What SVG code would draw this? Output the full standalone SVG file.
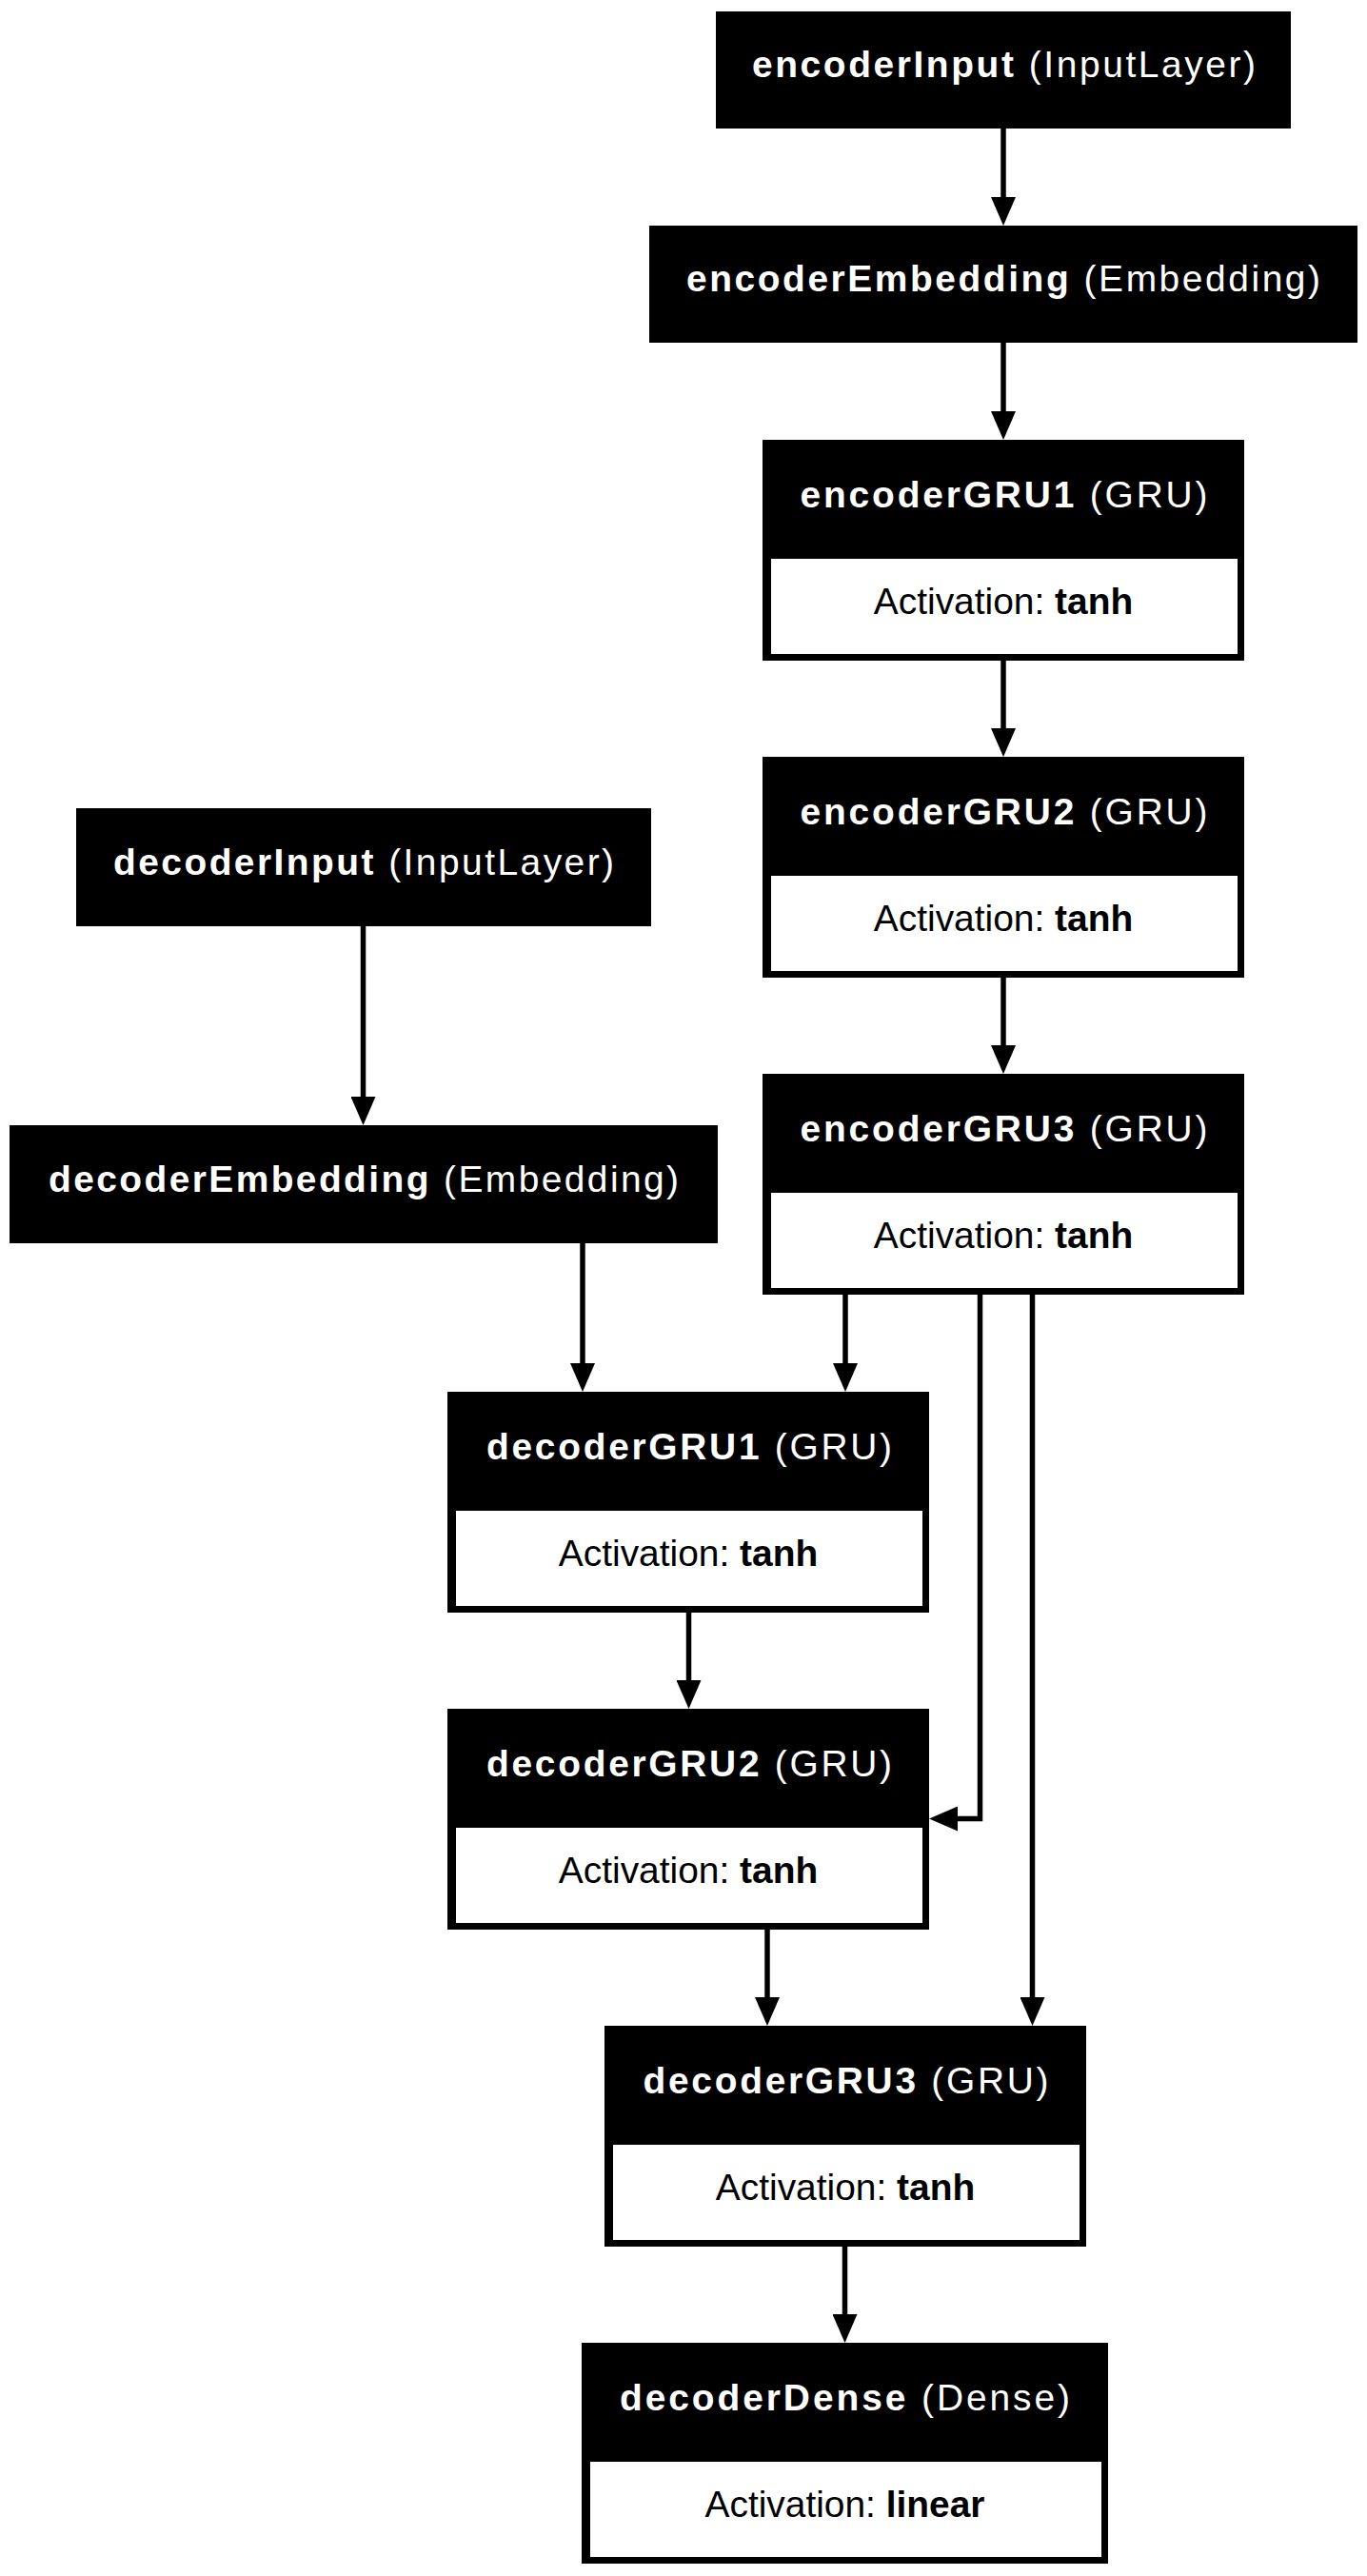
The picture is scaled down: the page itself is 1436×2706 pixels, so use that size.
<svg xmlns="http://www.w3.org/2000/svg" width="1436" height="2706" viewBox="0 0 1436 2706">
<defs>
<style>
.bg{fill:#ffffff}
.box{fill:#000000}
.cell{fill:#ffffff}
.t{font-family:"Liberation Sans",Arial,Helvetica,sans-serif;font-size:38.9px}
.tw{fill:#ffffff}
.tb{fill:#000000}
.b{font-weight:bold}
.edge{fill:none;stroke:#000000;stroke-width:5.5}
</style>
<marker id="ah" markerUnits="userSpaceOnUse" viewBox="0 0 30 26" refX="0" refY="13" markerWidth="30" markerHeight="26" orient="auto">
<path d="M0,0 L30,13 L0,26 z" fill="#000000"/>
</marker>
</defs>
<rect class="bg" x="0" y="0" width="1436" height="2706"/>

<g id="connectors">
<path class="edge" marker-end="url(#ah)" d="M1054,135 L1054,207"/>
<path class="edge" marker-end="url(#ah)" d="M1054,360 L1054,432"/>
<path class="edge" marker-end="url(#ah)" d="M1054,694 L1054,765"/>
<path class="edge" marker-end="url(#ah)" d="M1054,1027 L1054,1098"/>
<path class="edge" marker-end="url(#ah)" d="M381.5,973 L381.5,1152"/>
<path class="edge" marker-end="url(#ah)" d="M612,1306 L612,1432"/>
<path class="edge" marker-end="url(#ah)" d="M888,1360 L888,1432"/>
<path class="edge" marker-end="url(#ah)" d="M1029.5,1360 L1029.5,1910.5 L1006,1910.5"/>
<path class="edge" marker-end="url(#ah)" d="M1084.5,1360 L1084.5,2098"/>
<path class="edge" marker-end="url(#ah)" d="M723.5,1694 L723.5,1765"/>
<path class="edge" marker-end="url(#ah)" d="M806,2027 L806,2098"/>
<path class="edge" marker-end="url(#ah)" d="M887.5,2360 L887.5,2431"/>
</g>

<g id="encoderInput">
<rect class="box" x="752" y="12" width="604" height="123"/>
<text class="t tw" x="790" y="81" textLength="529"><tspan class="b">encoderInput</tspan> (InputLayer)</text>
</g>

<g id="encoderEmbedding">
<rect class="box" x="682" y="237" width="744" height="123"/>
<text class="t tw" x="721" y="306" textLength="666"><tspan class="b">encoderEmbedding</tspan> (Embedding)</text>
</g>

<g id="encoderGRU1">
<rect class="box" x="801" y="462" width="506" height="232"/>
<rect class="cell" x="810" y="587" width="490" height="100"/>
<text class="t tw" x="840.5" y="532.5" textLength="428"><tspan class="b">encoderGRU1</tspan> (GRU)</text>
<text class="t tb" x="1054" y="645" text-anchor="middle">Activation: <tspan class="b">tanh</tspan></text>
</g>

<g id="encoderGRU2">
<rect class="box" x="801" y="795" width="506" height="232"/>
<rect class="cell" x="810" y="920" width="490" height="100"/>
<text class="t tw" x="840.5" y="865.5" textLength="428"><tspan class="b">encoderGRU2</tspan> (GRU)</text>
<text class="t tb" x="1054" y="978" text-anchor="middle">Activation: <tspan class="b">tanh</tspan></text>
</g>

<g id="encoderGRU3">
<rect class="box" x="801" y="1128" width="506" height="232"/>
<rect class="cell" x="810" y="1253" width="490" height="100"/>
<text class="t tw" x="840.5" y="1198.5" textLength="428"><tspan class="b">encoderGRU3</tspan> (GRU)</text>
<text class="t tb" x="1054" y="1311" text-anchor="middle">Activation: <tspan class="b">tanh</tspan></text>
</g>

<g id="decoderInput">
<rect class="box" x="80" y="849" width="604" height="124"/>
<text class="t tw" x="119" y="919" textLength="526"><tspan class="b">decoderInput</tspan> (InputLayer)</text>
</g>

<g id="decoderEmbedding">
<rect class="box" x="10" y="1182" width="744" height="124"/>
<text class="t tw" x="51" y="1252" textLength="662"><tspan class="b">decoderEmbedding</tspan> (Embedding)</text>
</g>

<g id="decoderGRU1">
<rect class="box" x="470" y="1462" width="506" height="232"/>
<rect class="cell" x="479" y="1587" width="490" height="100"/>
<text class="t tw" x="511" y="1532.5" textLength="426"><tspan class="b">decoderGRU1</tspan> (GRU)</text>
<text class="t tb" x="723" y="1645" text-anchor="middle">Activation: <tspan class="b">tanh</tspan></text>
</g>

<g id="decoderGRU2">
<rect class="box" x="470" y="1795" width="506" height="232"/>
<rect class="cell" x="479" y="1920" width="490" height="100"/>
<text class="t tw" x="511" y="1865.5" textLength="426"><tspan class="b">decoderGRU2</tspan> (GRU)</text>
<text class="t tb" x="723" y="1978" text-anchor="middle">Activation: <tspan class="b">tanh</tspan></text>
</g>

<g id="decoderGRU3">
<rect class="box" x="635" y="2128" width="506" height="232"/>
<rect class="cell" x="644" y="2253" width="490" height="100"/>
<text class="t tw" x="675.5" y="2198.5" textLength="426"><tspan class="b">decoderGRU3</tspan> (GRU)</text>
<text class="t tb" x="888" y="2311" text-anchor="middle">Activation: <tspan class="b">tanh</tspan></text>
</g>

<g id="decoderDense">
<rect class="box" x="611" y="2461" width="553" height="232"/>
<rect class="cell" x="620" y="2586" width="537" height="100"/>
<text class="t tw" x="651" y="2531.5" textLength="473"><tspan class="b">decoderDense</tspan> (Dense)</text>
<text class="t tb" x="887.5" y="2644" text-anchor="middle">Activation: <tspan class="b">linear</tspan></text>
</g>
</svg>
